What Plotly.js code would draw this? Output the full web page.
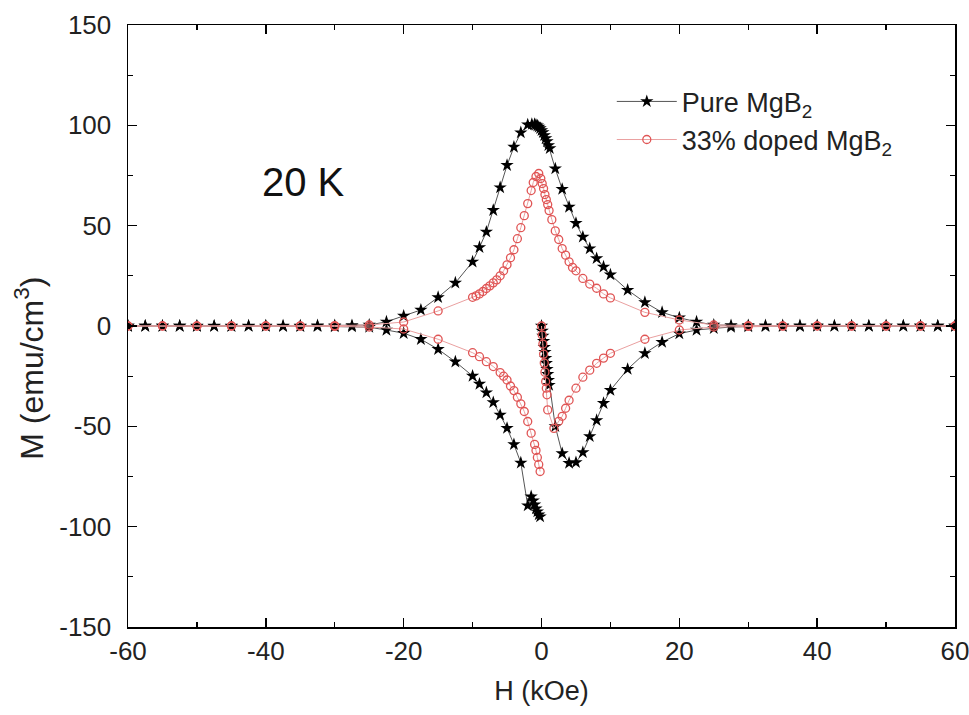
<!DOCTYPE html>
<html>
<head>
<meta charset="utf-8">
<script src="https://cdn.plot.ly/plotly-3.0.1.min.js"></script>
<style>html,body{margin:0;padding:0;background:#fff;}#chart{width:969px;height:715px;}</style>
</head>
<body>
<div id="chart"></div>
<script>
// ---- Pure MgB2 (black stars): virgin, field-decreasing, field-increasing ----
const pureVirginH = [0, 0.1, 0.2, 0.3, 0.4, 0.5, 0.6, 0.7, 0.8, 0.9, 1.0, 1.1, 2, 3, 4, 5, 6, 7, 8, 9, 10, 12.5, 15, 17.5, 20, 22.5, 25, 27.5, 30, 32.5, 35, 37.5, 40, 42.5, 45, 47.5, 50, 52.5, 55, 57.5, 60];
const pureVirginM = [0, -2.5, -5, -7.5, -10.5, -13, -16, -18.5, -21.5, -24, -27, -29.5, -50, -63.5, -68.3, -68, -63, -55, -47, -38.5, -32, -21.5, -13.6, -8, -3.8, -2, -1.2, -0.5, -0.3, -0.2, -0.2, -0.2, -0.1, -0.1, -0.1, -0.1, 0, 0, 0, 0, 0];
const pureDownH = [60, 57.5, 55, 52.5, 50, 47.5, 45, 42.5, 40, 37.5, 35, 32.5, 30, 27.5, 25, 22.5, 20, 17.5, 15, 12.5, 10, 9, 8, 7, 6, 5, 4, 3, 2, 1.2, 1.0, 0.8, 0.6, 0.4, 0.2, 0, -0.2, -0.4, -0.6, -0.8, -1.0, -1.4, -2, -3, -4, -5, -6, -7, -8, -9, -10, -12.5, -15, -17.5, -20, -22.5, -25, -27.5, -30, -32.5, -35, -37.5, -40, -42.5, -45, -47.5, -50, -52.5, -55, -57.5, -60];
const pureDownM = [0, 0, 0, 0.1, 0.1, 0.1, 0.1, 0.1, 0.2, 0.2, 0.2, 0.2, 0.3, 0.3, 0.5, 2.1, 4.1, 6.8, 11.8, 17.9, 25.6, 29.5, 33.7, 38.6, 44.4, 51.2, 59.3, 68.2, 78.4, 88.5, 90, 92, 93.5, 95, 96.5, 97.5, 98.5, 99.2, 99.8, 100.2, 100.5, 100.6, 100.3, 96.4, 89.2, 80.1, 69, 57.7, 46.9, 39.2, 32, 21.5, 14.3, 8, 5, 2.1, 0.5, 0.3, 0.2, 0.2, 0.1, 0.1, 0.1, 0.1, 0, 0, 0, 0, 0, 0, 0];
const pureUpH = [-60, -57.5, -55, -52.5, -50, -47.5, -45, -42.5, -40, -37.5, -35, -32.5, -30, -27.5, -25, -22.5, -20, -17.5, -15, -12.5, -10, -9, -8, -7, -6, -5, -4, -3, -2, -1.5, -1.2, -1.0, -0.8, -0.6, -0.4, -0.2];
const pureUpM = [0, 0, 0, 0, -0.1, -0.1, -0.1, -0.1, -0.1, -0.2, -0.2, -0.2, -0.3, -0.3, -0.6, -2, -3.6, -6.6, -11.6, -17.8, -24.9, -28.9, -33.2, -38.1, -44.3, -50.9, -59, -68.2, -89.5, -85, -87, -89, -91, -92.5, -94, -95];

// ---- 33% doped MgB2 (red open circles) ----
const dopedVirginH = [0, 0.1, 0.2, 0.3, 0.4, 0.5, 0.6, 0.7, 0.8, 0.9, 1.8, 2.5, 3, 3.5, 4, 5, 6, 7, 8, 9, 10, 15, 20, 25, 30, 35, 40, 45, 50, 55, 60];
const dopedVirginM = [0, -4.5, -9, -14, -18.5, -23, -27.7, -31, -34.3, -41.8, -51, -47.5, -45, -41, -37, -31, -25.5, -22, -18.6, -16, -13.6, -6.6, -2, -0.5, -0.2, -0.1, 0, 0, 0, 0, 0];
const dopedDownH = [60, 55, 50, 45, 40, 35, 30, 25, 20, 15, 10, 9, 8, 7, 6, 5, 4.5, 4, 3.5, 3, 2.5, 2, 1.5, 1.1, 0.9, 0.7, 0.5, 0.3, 0.1, -0.1, -0.4, -0.8, -1.2, -1.5, -2, -2.5, -3, -3.5, -4, -4.5, -5, -5.5, -6, -6.5, -7, -7.5, -8, -8.5, -9, -9.5, -10, -15, -20, -25, -30, -35, -40, -45, -50, -55, -60];
const dopedDownM = [0, 0, 0, 0, 0.1, 0.1, 0.2, 0.5, 3, 6.8, 14, 16, 18.8, 20.9, 23.7, 27.5, 29.2, 32, 35.3, 38.6, 43.1, 47.4, 53, 57.5, 60.5, 63, 65.5, 68.5, 71, 73.5, 76, 74.5, 71.5, 67.5, 61, 55, 49, 43.5, 38, 34, 30.5, 27.5, 25, 23, 21.5, 20, 18.7, 17.2, 16, 15, 14.3, 7.5, 2, 0.5, 0.2, 0.1, 0, 0, 0, 0, 0];
const dopedUpH = [-60, -55, -50, -45, -40, -35, -30, -25, -20, -15, -10, -9, -8, -7, -6, -5.5, -5, -4.5, -4, -3.5, -3, -2.5, -2, -1.5, -1.0, -0.8, -0.6, -0.4, -0.2];
const dopedUpM = [0, 0, 0, 0, 0, -0.1, -0.2, -0.5, -1.5, -6.6, -13.3, -15.3, -17.8, -20.2, -23.2, -25, -26.9, -29.9, -32.2, -35.5, -38.8, -42.6, -47.6, -53.4, -59, -62, -65.5, -69, -72.5];

const seriesNames = ['Pure MgB<sub>2</sub>', '33% doped MgB<sub>2</sub>'];
const tempLabel = '20 K';
const xTitle = 'H (kOe)';
const yTitle = 'M (emu/cm<sup>3</sup>)';
const xTickVals = [-60, -40, -20, 0, 20, 40, 60];
const yTickVals = [-150, -100, -50, 0, 50, 100, 150];

const FONT = 'Liberation Sans, Arial, sans-serif';

const pure = {
  x: pureVirginH.concat(pureDownH, pureUpH),
  y: pureVirginM.concat(pureDownM, pureUpM),
  name: seriesNames[0],
  type: 'scatter', mode: 'lines+markers',
  line: {color: '#555555', width: 1},
  marker: {symbol: 'star', size: 10, color: '#000000', line: {width: 0}}
};
const doped = {
  x: dopedVirginH.concat(dopedDownH, dopedUpH),
  y: dopedVirginM.concat(dopedDownM, dopedUpM),
  name: seriesNames[1],
  type: 'scatter', mode: 'lines+markers',
  line: {color: '#eaa0a0', width: 1},
  marker: {symbol: 'circle-open', size: 8, color: '#e05555', line: {width: 1.3, color: '#e05555'}}
};

const axisCommon = {
  showline: true, linecolor: '#000', linewidth: 1.5, mirror: 'ticks',
  ticks: 'inside', ticklen: 9, tickwidth: 1.5, tickcolor: '#000',
  showgrid: false, zeroline: false, ticklabeloverflow: 'allow',
  tickfont: {family: FONT, size: 26, color: '#222'},
  minor: {ticks: 'inside', ticklen: 5, tickwidth: 1.2, tickcolor: '#000', showgrid: false}
};

const layout = {
  width: 969, height: 715,
  margin: {l: 128, r: 14, t: 25, b: 88},
  paper_bgcolor: '#fff', plot_bgcolor: '#fff',
  showlegend: true,
  legend: {x: 0.585, y: 0.913, xanchor: 'left', yanchor: 'top', bgcolor: 'rgba(0,0,0,0)',
           font: {family: FONT, size: 27, color: '#222'},
           itemwidth: 60, tracegroupgap: 2},
  xaxis: Object.assign({}, axisCommon, {
    range: [-60, 60], tickvals: xTickVals, ticktext: xTickVals.map(String),
    minor: Object.assign({}, axisCommon.minor, {dtick: 10, tick0: 0}),
    title: {text: xTitle, font: {family: FONT, size: 27, color: '#222'}, standoff: 16}
  }),
  yaxis: Object.assign({}, axisCommon, {
    range: [-150, 150], tickvals: yTickVals, ticktext: yTickVals.map(String),
    ticklabelstandoff: 10,
    minor: Object.assign({}, axisCommon.minor, {dtick: 25, tick0: 0})
  }),
  annotations: [
    {
      x: -34.5, y: 72, xref: 'x', yref: 'y', text: tempLabel, showarrow: false,
      font: {family: FONT, size: 40, color: '#111'}
    },
    {
      x: -0.119, y: 0.43, xref: 'paper', yref: 'paper', text: yTitle, showarrow: false,
      textangle: -90, xanchor: 'center', yanchor: 'middle',
      font: {family: FONT, size: 32, color: '#222'}
    }
  ]
};

Plotly.newPlot('chart', [pure, doped], layout, {displayModeBar: false, staticPlot: true});
</script>
</body>
</html>
